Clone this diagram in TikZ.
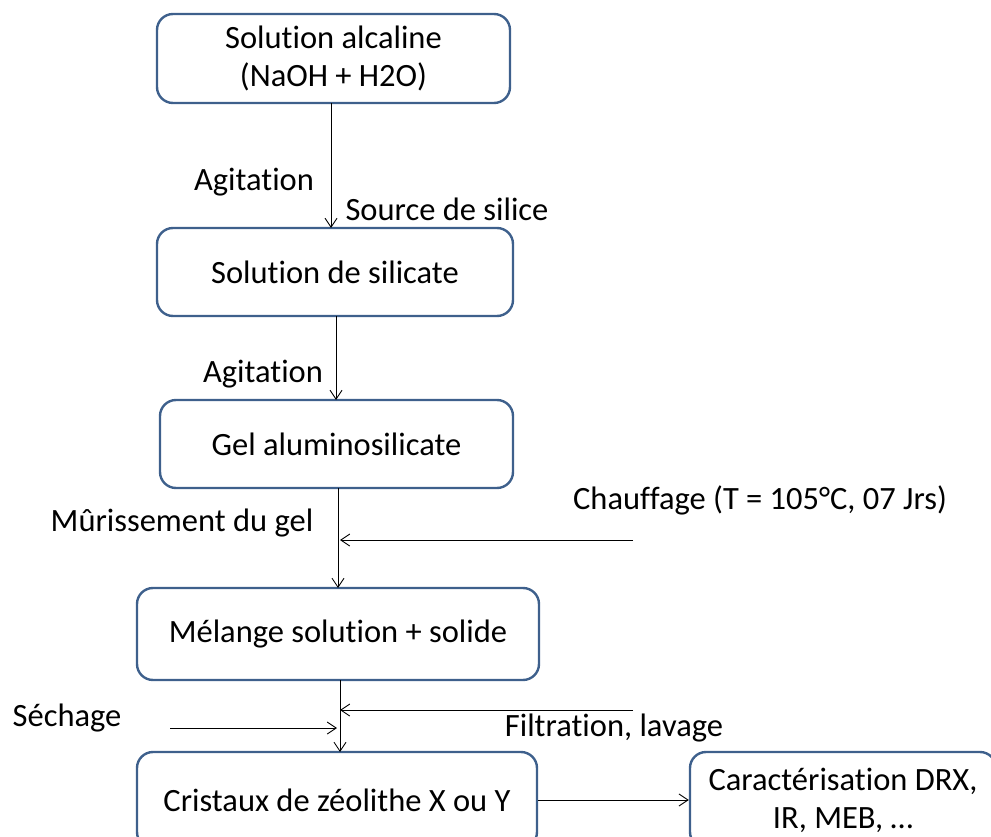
\documentclass[tikz,border=0pt]{standalone}
\usepackage{fontspec}
\setmainfont{Carlito}[Ligatures=NoCommon]
\usetikzlibrary{arrows.meta}

\definecolor{boxblue}{RGB}{62,96,140}

\tikzset{
  stage/.style={draw=boxblue, line width=2.4pt, rounded corners=16pt, align=center,
    inner sep=0pt},
  arr/.style={-{Straight Barb[length=9pt,width=12pt]}, line width=0.9pt},
  lbl/.style={inner sep=0pt}
}

\begin{document}
\begin{tikzpicture}[x=1pt,y=-1pt,font=\fontsize{32.5}{38}\selectfont]
  \useasboundingbox (0,0) rectangle (991,837);

  % stages
  \node[stage, minimum width=353pt, minimum height=89pt] (alcal) at (333.5,58.5)
    {Solution alcaline\\(NaOH + H2O)};
  \node[stage, minimum width=356pt, minimum height=88pt] (silic) at (335,272)
    {Solution de silicate};
  \node[stage, minimum width=353pt, minimum height=88pt] (gel) at (336.5,444)
    {Gel aluminosilicate};
  \node[stage, minimum width=402pt, minimum height=92pt] (melange) at (338,634)
    {Mélange solution + solide};
  \node[stage, minimum width=400pt, minimum height=96pt] (cristaux) at (337,800)
    {Cristaux de zéolithe X ou Y};
  \node[stage, minimum width=306pt, minimum height=96pt] (carac) at (843,800)
    {Caractérisation DRX,\\IR, MEB, …};

  % side inputs
  \coordinate (chauf) at (633,540);
  \coordinate (filt) at (633,710);
  \coordinate (sech) at (170,728);

  % main line
  \draw[arr] (331,103) -- (331,228);
  \draw[arr] (336,316) -- (336,400);
  \draw[arr] (338,488) -- (338,588);
  \draw[arr] (340,680) -- (340,752);
  \draw[arr] (chauf) -- (340,540);
  \draw[arr] (filt) -- (340,710);
  \draw[arr] (sech) -- (337,728);
  \draw[arr] (cristaux.east) -- (carac.west);

  % labels
  \node[lbl] (ag1) at (254,182) {Agitation};
  \node[lbl] (src) at (447,209) {Source de silice};
  \node[lbl] (ag2) at (263,374) {Agitation};
  \node[lbl] (mur) at (182,523) {Mûrissement du gel};
  \node[lbl] (chl) at (760,500) {Chauffage (T = 105°C, 07 Jrs)};
  \node[lbl] (sel) at (67,718) {Séchage};
  \node[lbl] (fil) at (614,728) {Filtration, lavage};
\end{tikzpicture}
\end{document}
